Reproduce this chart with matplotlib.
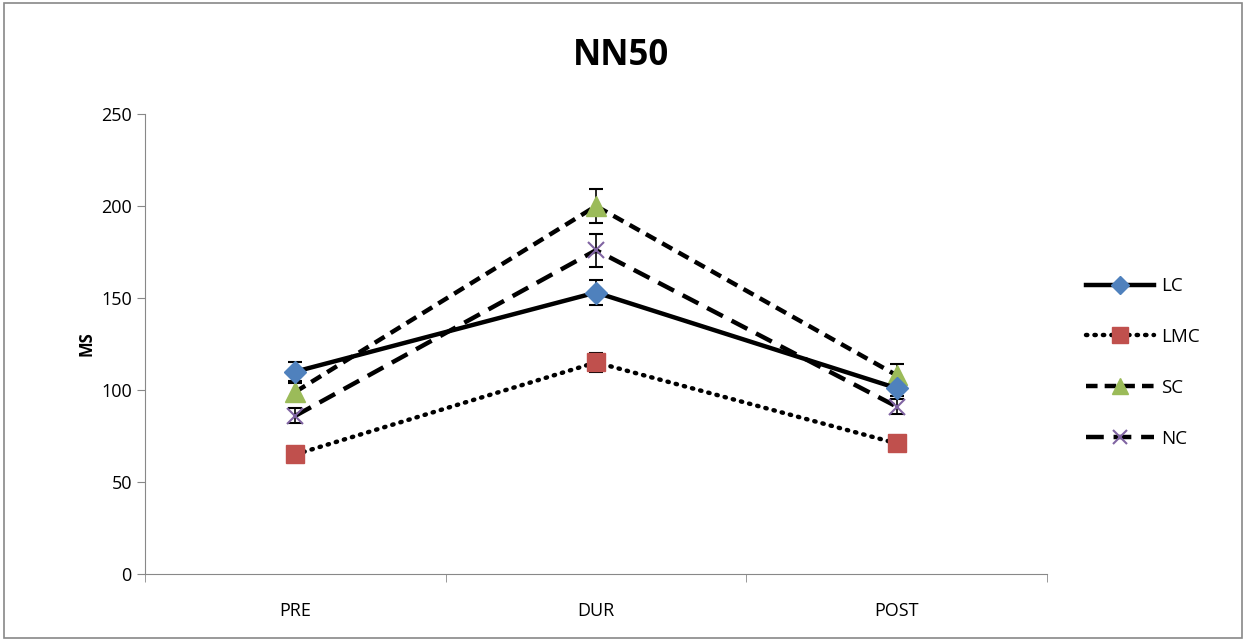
import matplotlib.pyplot as plt
import numpy as np

plt.rcParams['font.family'] = ['Open Sans', 'DejaVu Sans']

phases = ['PRE', 'DUR', 'POST']
series = ['LC', 'LMC', 'SC', 'NC']
lc = [110, 153, 101]
lmc = [65, 115, 71]
sc = [99, 200, 108]
nc = [86, 176, 91]
lc_err = [5, 7, 4]
lmc_err = [3, 5, 3]
sc_err = [5, 9, 6]
nc_err = [4, 9, 4]

fig = plt.figure(figsize=(12.46, 6.41), dpi=100)
ax = fig.add_axes([0.1164, 0.1045, 0.7239, 0.7176])

x = np.arange(len(phases))
styles = [
    (lmc, lmc_err, dict(ls=(0, (0.3, 1.6)), dash_capstyle='round', marker='s', color='black', mfc='#C0504D', mec='#C0504D', ms=13), 'LMC'),
    (nc, nc_err, dict(ls=(0, (4, 2.2)), marker='x', color='black', mfc='#8064A2', mec='#8064A2', ms=12, mew=1.5), 'NC'),
    (sc, sc_err, dict(ls=(0, (2.6, 1.6)), marker='^', color='black', mfc='#9BBB59', mec='#9BBB59', ms=14), 'SC'),
    (lc, lc_err, dict(ls='-', marker='D', color='black', mfc='#4F81BD', mec='#4F81BD', ms=11), 'LC'),
]
handles = {}
for vals, err, kw, name in styles:
    ax.errorbar(x, vals, yerr=err, fmt='none', ecolor='black', elinewidth=1.2, capsize=5, capthick=1.5, zorder=2)
    h, = ax.plot(x, vals, lw=3.2, zorder=3, **kw)
    handles[name] = h

ax.set_xlim(-0.5, 2.5)
ax.set_ylim(0, 250)
ax.set_yticks([0, 50, 100, 150, 200, 250])
ax.set_xticks(x)
ax.set_xticklabels(phases)
ax.set_xticks([-0.5, 0.5, 1.5, 2.5], minor=True)
ax.tick_params(axis='x', which='major', length=0, pad=20, labelsize=13)
ax.tick_params(axis='x', which='minor', length=6, color='#888888')
ax.tick_params(axis='y', length=6, color='#888888', labelsize=13)
for s in ['top', 'right']:
    ax.spines[s].set_visible(False)
for s in ['left', 'bottom']:
    ax.spines[s].set_color('#888888')

ax.set_ylabel('MS', fontweight='bold', fontsize=12)
fig.text(0.4985, 0.913, 'NN50', ha='center', va='center', fontsize=25, fontweight='bold')

ax.legend([handles[s] for s in series], series, loc='center left', bbox_to_anchor=(1.025, 0.46),
          frameon=False, fontsize=13.5, handlelength=3.6, labelspacing=1.75, handletextpad=0.4,
          markerscale=0.85)

fig.patches.append(plt.Rectangle((0.003, 0.004), 0.994, 0.992, transform=fig.transFigure,
                                 fill=False, edgecolor='#888888', lw=1.2))

fig.savefig('out.png', dpi=100, facecolor='white')
